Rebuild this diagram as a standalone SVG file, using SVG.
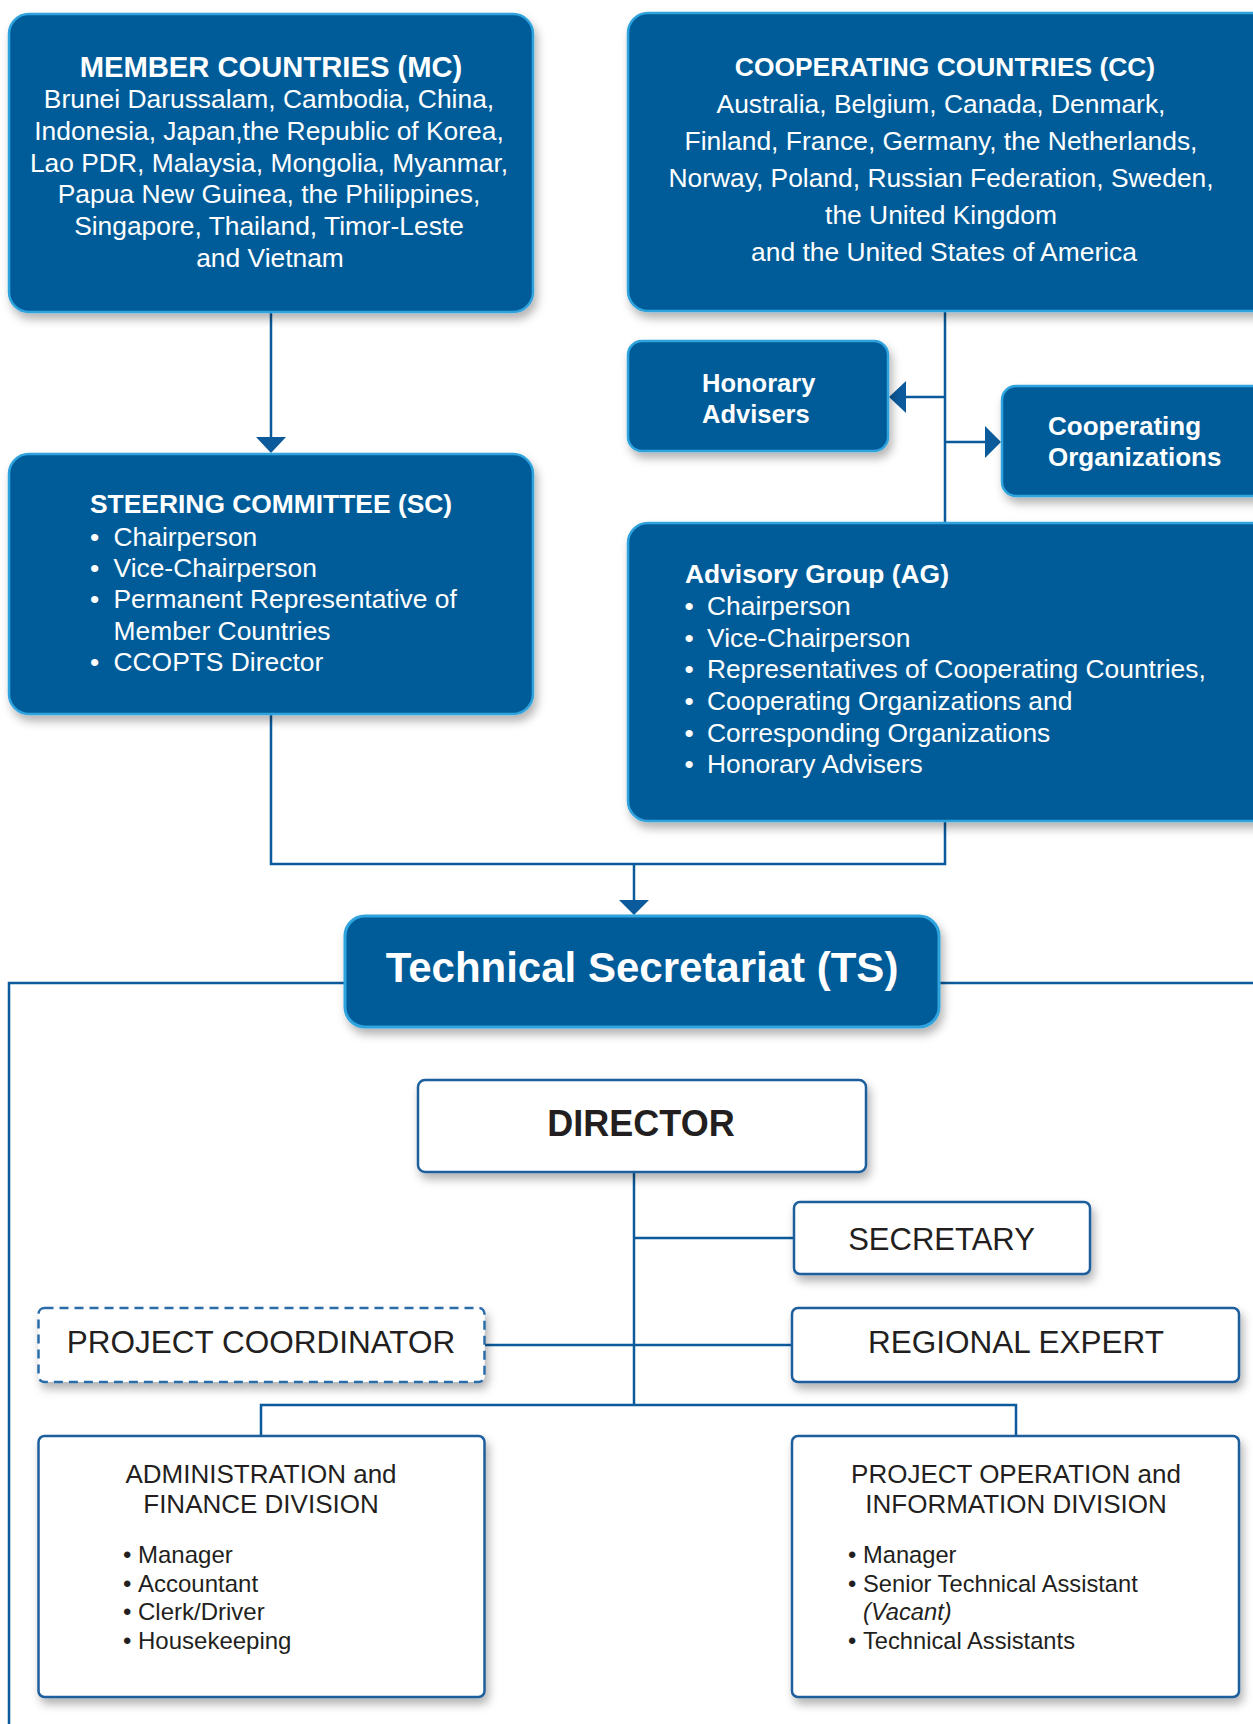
<svg xmlns="http://www.w3.org/2000/svg" width="1253" height="1724" viewBox="0 0 1253 1724">
<defs>
<filter id="sh" x="-10%" y="-10%" width="125%" height="135%">
<feDropShadow dx="3" dy="6" stdDeviation="5" flood-color="#000" flood-opacity="0.3"/>
</filter>
<style>
.bb{fill:#035c99;stroke:#2ea3dd;stroke-width:2.5;filter:url(#sh)}
.wb{fill:#fff;stroke:#1f5e9c;stroke-width:2.5;filter:url(#sh)}
.db{fill:#fff;stroke:#2b6ca8;stroke-width:2.5;stroke-dasharray:9 6;filter:url(#sh)}
.ln{fill:none;stroke:#0b5a9b;stroke-width:2.5}
.ah{fill:#0b5a9b}
text{font-family:"Liberation Sans",Arial,sans-serif}
.wt{fill:#fff;font-size:26.4px}
.wtb{fill:#fff;font-weight:bold}
.dk{fill:#231f20}
.c{text-anchor:middle}
</style>
</defs>

<g id="connectors">
<line class="ln" x1="271" y1="313" x2="271" y2="439"/>
<polygon class="ah" points="256,437 286,437 271,453"/>
<line class="ln" x1="945" y1="312" x2="945" y2="522"/>
<line class="ln" x1="945" y1="397" x2="904" y2="397"/>
<polygon class="ah" points="889,397 906,381 906,413"/>
<line class="ln" x1="945" y1="442" x2="987" y2="442"/>
<polygon class="ah" points="1001,442 985,426 985,458"/>
<polyline class="ln" points="271,715 271,864 945,864 945,822"/>
<line class="ln" x1="634" y1="864" x2="634" y2="902"/>
<polygon class="ah" points="619,900 649,900 634,915"/>
<polyline class="ln" points="344,983 9,983 9,1724"/>
<line class="ln" x1="940" y1="983" x2="1253" y2="983"/>
<line class="ln" x1="634" y1="1173" x2="634" y2="1405"/>
<line class="ln" x1="634" y1="1238" x2="793" y2="1238"/>
<line class="ln" x1="485" y1="1345" x2="791" y2="1345"/>
<polyline class="ln" points="261,1435 261,1405 1016,1405 1016,1435"/>
</g>

<g id="member-countries">
<rect class="bb" x="9" y="14" width="524" height="298" rx="20"/>
<text class="wtb c" x="271" y="77" font-size="29.2">MEMBER COUNTRIES (MC)</text>
<text class="wt c" x="269" y="108">Brunei Darussalam, Cambodia, China,</text>
<text class="wt c" x="269" y="140">Indonesia, Japan,the Republic of Korea,</text>
<text class="wt c" x="269" y="172">Lao PDR, Malaysia, Mongolia, Myanmar,</text>
<text class="wt c" x="269" y="203">Papua New Guinea, the Philippines,</text>
<text class="wt c" x="269" y="235">Singapore, Thailand, Timor-Leste</text>
<text class="wt c" x="270" y="267">and Vietnam</text>
</g>

<g id="cooperating-countries">
<rect class="bb" x="628" y="13" width="660" height="298" rx="20"/>
<text class="wtb c" x="945" y="76" font-size="26.4">COOPERATING COUNTRIES (CC)</text>
<text class="wt c" x="941" y="113">Australia, Belgium, Canada, Denmark,</text>
<text class="wt c" x="941" y="150">Finland, France, Germany, the Netherlands,</text>
<text class="wt c" x="941" y="187">Norway, Poland, Russian Federation, Sweden,</text>
<text class="wt c" x="941" y="224">the United Kingdom</text>
<text class="wt c" x="944" y="261">and the United States of America</text>
</g>

<g id="honorary-advisers">
<rect class="bb" x="628" y="341" width="260" height="110" rx="14"/>
<text class="wtb" x="702" y="392" font-size="25.5">Honorary</text>
<text class="wtb" x="702" y="423" font-size="25.5">Advisers</text>
</g>

<g id="cooperating-organizations">
<rect class="bb" x="1002" y="386" width="290" height="110" rx="14"/>
<text class="wtb" x="1048" y="435" font-size="26">Cooperating</text>
<text class="wtb" x="1048" y="466" font-size="26">Organizations</text>
</g>

<g id="steering-committee">
<rect class="bb" x="9" y="454" width="524" height="260" rx="20"/>
<text class="wtb" x="90" y="513" font-size="26.4">STEERING COMMITTEE (SC)</text>
<text class="wt" x="90" y="546">•</text><text class="wt" x="113.5" y="546">Chairperson</text>
<text class="wt" x="90" y="577">•</text><text class="wt" x="113.5" y="577">Vice-Chairperson</text>
<text class="wt" x="90" y="608">•</text><text class="wt" x="113.5" y="608">Permanent Representative of</text>
<text class="wt" x="113.5" y="640">Member Countries</text>
<text class="wt" x="90" y="671">•</text><text class="wt" x="113.5" y="671">CCOPTS Director</text>
</g>

<g id="advisory-group">
<rect class="bb" x="628" y="523" width="660" height="298" rx="20"/>
<text class="wtb" x="685" y="583" font-size="26.4">Advisory Group (AG)</text>
<text class="wt" x="684.5" y="615">•</text><text class="wt" x="707" y="615">Chairperson</text>
<text class="wt" x="684.5" y="647">•</text><text class="wt" x="707" y="647">Vice-Chairperson</text>
<text class="wt" x="684.5" y="678">•</text><text class="wt" x="707" y="678">Representatives of Cooperating Countries,</text>
<text class="wt" x="684.5" y="710">•</text><text class="wt" x="707" y="710">Cooperating Organizations and</text>
<text class="wt" x="684.5" y="742">•</text><text class="wt" x="707" y="742">Corresponding Organizations</text>
<text class="wt" x="684.5" y="773">•</text><text class="wt" x="707" y="773">Honorary Advisers</text>
</g>

<g id="technical-secretariat">
<rect class="bb" x="345" y="916" width="594" height="111" rx="20" style="stroke-width:3"/>
<text class="wtb c" x="642" y="982" font-size="42">Technical Secretariat (TS)</text>
</g>

<g id="director">
<rect class="wb" x="418" y="1080" width="448" height="92" rx="7"/>
<text class="dk c" x="641" y="1136" font-size="36" font-weight="bold">DIRECTOR</text>
</g>

<g id="secretary">
<rect class="wb" x="794" y="1202" width="296" height="72" rx="6"/>
<text class="dk c" x="941.5" y="1250" font-size="31">SECRETARY</text>
</g>

<g id="project-coordinator">
<rect class="db" x="38.5" y="1308" width="446" height="74" rx="6"/>
<text class="dk c" x="261" y="1353" font-size="31.5">PROJECT COORDINATOR</text>
</g>

<g id="regional-expert">
<rect class="wb" x="792" y="1308" width="447" height="74" rx="6"/>
<text class="dk c" x="1016" y="1353" font-size="31.5">REGIONAL EXPERT</text>
</g>

<g id="admin-finance">
<rect class="wb" x="38.5" y="1436" width="446" height="261" rx="6"/>
<text class="dk c" x="261" y="1483" font-size="26">ADMINISTRATION and</text>
<text class="dk c" x="261" y="1513" font-size="26">FINANCE DIVISION</text>
<g class="dk" font-size="24">
<text x="123" y="1563">•</text><text x="138" y="1563">Manager</text>
<text x="123" y="1592">•</text><text x="138" y="1592">Accountant</text>
<text x="123" y="1620">•</text><text x="138" y="1620">Clerk/Driver</text>
<text x="123" y="1649">•</text><text x="138" y="1649">Housekeeping</text>
</g>
</g>

<g id="project-operation">
<rect class="wb" x="792" y="1436" width="447" height="261" rx="6"/>
<text class="dk c" x="1016" y="1483" font-size="26">PROJECT OPERATION and</text>
<text class="dk c" x="1016" y="1513" font-size="26">INFORMATION DIVISION</text>
<g class="dk" font-size="23.7">
<text x="848" y="1563">•</text><text x="863" y="1563">Manager</text>
<text x="848" y="1592">•</text><text x="863" y="1592">Senior Technical Assistant</text>
<text x="863" y="1620" font-style="italic">(Vacant)</text>
<text x="848" y="1649">•</text><text x="863" y="1649">Technical Assistants</text>
</g>
</g>
</svg>
